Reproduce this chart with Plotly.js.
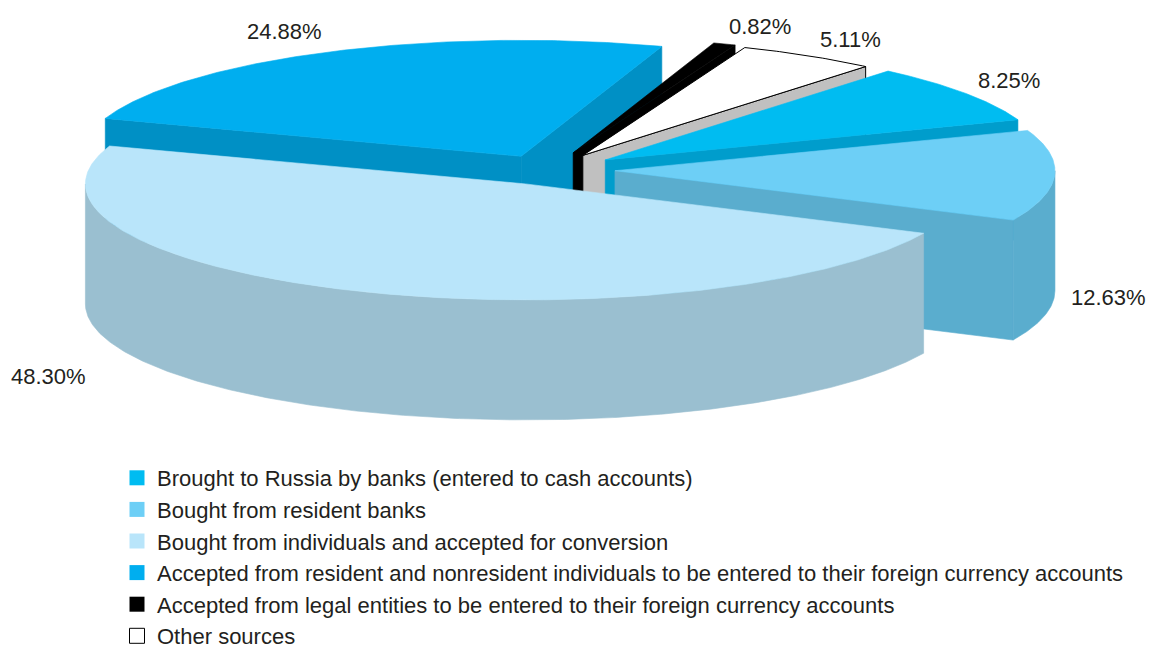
<!DOCTYPE html>
<html>
<head>
<meta charset="utf-8">
<script src="https://cdn.plot.ly/plotly-3.0.1.min.js"></script>
<style>
html, body { margin: 0; padding: 0; background: #ffffff; }
#chart { width: 1151px; height: 651px; }
</style>
</head>
<body>
<div id="chart"></div>
<script>
// ---------------- data ----------------
const categories = [
  "Brought to Russia by banks (entered to cash accounts)",
  "Bought from resident banks",
  "Bought from individuals and accepted for conversion",
  "Accepted from resident and nonresident individuals to be entered to their foreign currency accounts",
  "Accepted from legal entities to be entered to their foreign currency accounts",
  "Other sources"
];
const shares = [8.25, 12.63, 48.30, 24.88, 0.82, 5.11];

// ---------------- styles ----------------
const topColors  = ["#00BCF1", "#6DCFF6", "#B9E5FA", "#00AEEF", "#000000", "#FFFFFF"];
const sideColors = ["#009DCC", "#5AADCE", "#9ABFD0", "#0090C5", "#000000", "#C0C0C0"];
const outline    = [null, null, null, null, null, "#000000"];
const pull       = [70, 67, 60, 61, 73, 68];          // explosion distance of each slice
const labelPos   = [[1009, 80], [1108, 297], [48, 376], [284, 31], [760, 26], [850, 39]];

const geom = { cx: 548, cy: 170, rx: 440, ry: 116, depth: 120, startAngle: 50, squash: 0.25 };
const FONT = "Liberation Sans, Arial, Helvetica, sans-serif";
const TEXT = "#231F20";

// ---------------- geometry from the values ----------------
const rad = d => d * Math.PI / 180;
const total = shares.reduce((a, b) => a + b, 0);
let cum = 0;
const slices = shares.map((v, i) => {
  const hi = geom.startAngle - cum / total * 360;
  cum += v;
  const lo = geom.startAngle - cum / total * 360;
  const mid = (lo + hi) / 2;
  const ax = geom.cx + pull[i] * Math.cos(rad(mid));
  const ay = geom.cy - pull[i] * geom.squash * Math.sin(rad(mid));
  return { i, lo, hi, mid, ax, ay };
});

function pt(s, a, z) {
  return [s.ax + geom.rx * Math.cos(rad(a)), s.ay - geom.ry * Math.sin(rad(a)) + z];
}
function arc(s, a0, a1, z) {
  const n = Math.max(2, Math.ceil(Math.abs(a1 - a0) / 0.5));
  const out = [];
  for (let k = 0; k <= n; k++) out.push(pt(s, a0 + (a1 - a0) * k / n, z));
  return out;
}
function angDist(a, b) {
  return Math.abs((((a - b) % 360) + 540) % 360 - 180);
}
function containsAngle(s, a) {
  for (let k = -3; k <= 3; k++) {
    const t = a + 360 * k;
    if (t >= s.lo && t <= s.hi) return true;
  }
  return false;
}

const traces = [];
function poly(points, fill, line) {
  const xs = points.map(p => p[0]); xs.push(points[0][0]);
  const ys = points.map(p => p[1]); ys.push(points[0][1]);
  traces.push({
    type: "scatter", mode: "lines", x: xs, y: ys,
    fill: "toself", fillcolor: fill,
    line: line ? { color: line, width: 1 } : { color: fill, width: 0.6 },
    hoverinfo: "skip", showlegend: false
  });
}

// back-to-front drawing order
const order = slices.slice().sort((a, b) => {
  const ka = containsAngle(a, 90) ? 1e9 : angDist(a.mid, 270);
  const kb = containsAngle(b, 90) ? 1e9 : angDist(b.mid, 270);
  return kb - ka;
});

const D = geom.depth;
order.forEach(s => {
  const i = s.i;
  const apexT = [s.ax, s.ay], apexB = [s.ax, s.ay + D];
  const ln = outline[i];
  // radial side faces
  if (Math.cos(rad(s.lo)) > 0) poly([apexT, pt(s, s.lo, 0), pt(s, s.lo, D), apexB], sideColors[i], ln);
  if (Math.cos(rad(s.hi)) < 0) poly([apexT, pt(s, s.hi, 0), pt(s, s.hi, D), apexB], sideColors[i], ln);
  // outer (front) wall
  for (let k = -2; k <= 1; k++) {
    const a0 = Math.max(s.lo, 180 + 360 * k), a1 = Math.min(s.hi, 360 + 360 * k);
    if (a1 > a0) {
      const top = arc(s, a0, a1, 0), bot = arc(s, a1, a0, D);
      poly(top.concat(bot), sideColors[i], ln);
    }
  }
  // top face
  poly([apexT].concat(arc(s, s.lo, s.hi, 0)), topColors[i], ln);
});

// legend entries
categories.forEach((c, i) => {
  traces.push({
    type: "scatter", mode: "markers", x: [null], y: [null], name: c,
    marker: { symbol: "square", size: 15, color: topColors[i],
              line: { color: outline[i] || topColors[i], width: outline[i] ? 1 : 0 } },
    hoverinfo: "skip", showlegend: true
  });
});

const annotations = shares.map((v, i) => ({
  x: labelPos[i][0], y: labelPos[i][1], xref: "x", yref: "y",
  text: v.toFixed(2) + "%", showarrow: false,
  font: { family: FONT, size: 22, color: TEXT },
  xanchor: "center", yanchor: "middle"
}));

const layout = {
  width: 1151, height: 651,
  margin: { l: 0, r: 0, t: 0, b: 0, autoexpand: false },
  paper_bgcolor: "#ffffff", plot_bgcolor: "#ffffff",
  xaxis: { range: [0, 1151], visible: false, fixedrange: true },
  yaxis: { range: [651, 0], visible: false, fixedrange: true },
  showlegend: true,
  legend: {
    x: 117 / 1151, xanchor: "left", y: 1 - 457 / 651, yanchor: "top",
    traceorder: "normal",
    font: { family: FONT, size: 22, color: TEXT },
    bgcolor: "rgba(0,0,0,0)", itemclick: false, itemdoubleclick: false
  },
  annotations: annotations,
  font: { family: FONT, color: TEXT }
};

Plotly.newPlot("chart", traces, layout, { displayModeBar: false, staticPlot: true });
</script>
</body>
</html>
